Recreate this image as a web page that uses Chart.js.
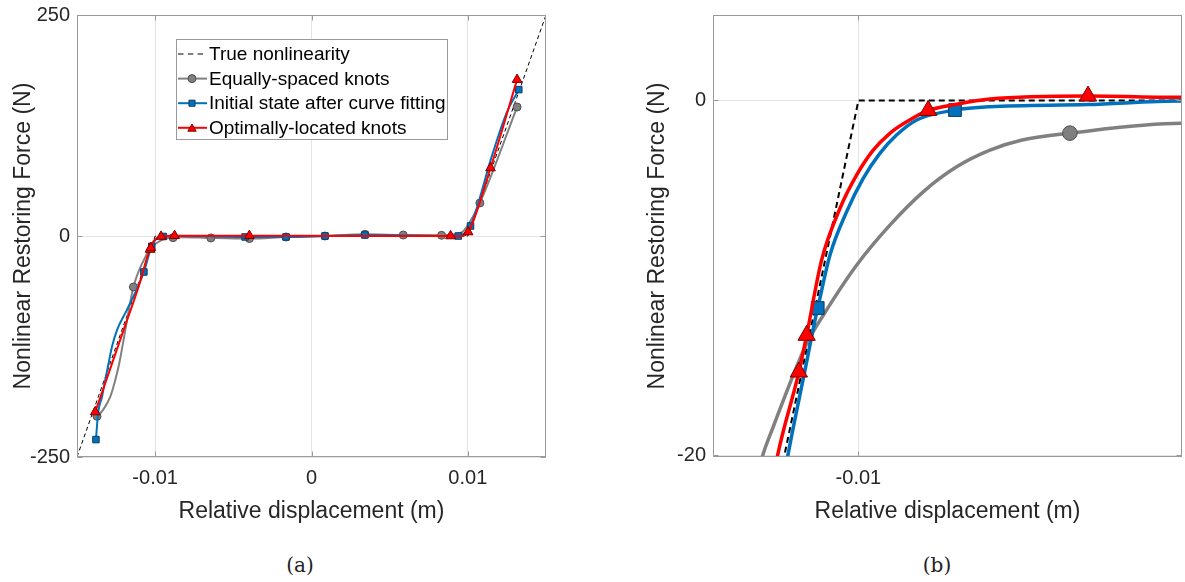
<!DOCTYPE html>
<html>
<head>
<meta charset="utf-8">
<script src="https://cdn.jsdelivr.net/npm/chart.js@4/dist/chart.umd.min.js"></script>
<style>
  body { margin: 0; background: #fff; }
  #page { position: relative; width: 1185px; height: 582px; overflow: hidden; }
  canvas { position: absolute; top: 0; }
  .cap { position: absolute; top: 553px; font: 20px/24px 'DejaVu Serif', 'Liberation Serif', serif; color: #222; transform: translateX(-50%); }
</style>
</head>
<body>
<div id="page">
  <canvas id="chartA" width="560" height="540" style="left:0"></canvas>
  <canvas id="chartB" width="600" height="540" style="left:600px"></canvas>
  <div class="cap" style="left:300px">(a)</div>
  <div class="cap" style="left:937px">(b)</div>
</div>
<script>
// true piecewise-linear nonlinearity
const trueX = [-0.015, -0.01, 0.01, 0.015];
const trueY = [-250, 0, 0, 250];

// equally-spaced knots (grey)
const grayKnotX = [-0.01372, -0.01139, -0.008857, -0.00644, -0.00397, -0.00163, 0.00086, 0.00342, 0.00587, 0.00832, 0.01077, 0.01315];
const grayKnotY = [-204, -57.7, -1.84, -2.2, -2.9, -1.1, 0, 1.9, 1.1, 0.8, 37.3, 145.9];
const grayCurveX = [-0.013355, -0.012875, -0.012556, -0.0123, -0.012026, -0.01052, -0.010461, -0.01028, -0.01019, -0.01001, -0.00983, -0.00965, -0.009469, -0.009289, -0.009115, -0.008251, 0.0096, 0.0101];
const grayCurveY = [-197.2, -182.1, -163.2, -144.3, -118, -20.11, -18.42, -13.71, -12.11, -9.29, -7.03, -5.15, -3.74, -2.8, -2.23, -1.29, 4, 15];

// initial state after curve fitting (blue)
const blueKnotX = [-0.013789, -0.010722, -0.01022, -0.009478, -0.004249, -0.001629, 0.000863, 0.003419, 0.00939, 0.010172, 0.013259];
const blueKnotY = [-230.3, -40.7, -11.7, -0.54, -1.1, -1.1, 0, 1.1, 0, 11.3, 165.6];
const blueCurveX = [-0.013642, -0.013406, -0.013195, -0.012984, -0.012767, -0.012447, -0.011808, -0.010383, -0.010289, -0.010229, -0.010154, -0.010064, -0.009974, -0.009884, -0.009794, -0.009685, -0.009289, -0.008759, -0.008251, 0.0065, 0.0098, 0.0116, 0.0125];
const blueCurveY = [-199.1, -182.1, -163.2, -144.3, -125.6, -106.7, -83.5, -20.11, -15.22, -12.11, -8.72, -6.28, -4.39, -2.98, -1.95, -1.1, -0.35, -0.23, -0.03, 0.6, 3, 94, 140];

// optimally-located knots (red)
const redKnotX = [-0.013834, -0.010322, -0.01028, -0.009623, -0.008759, -0.003974, 0.008895, 0.010019, 0.01145, 0.01315];
const redKnotY = [-199.1, -15.31, -13.24, -0.56, 0.25, 0.3, 0, 4.5, 76.9, 176.9];
const redCurveX = [-0.012026, -0.011067, -0.010439, -0.010199, -0.0101, -0.01001, -0.00992, -0.00983, -0.009739, -0.009469, -0.009289, -0.008251, 0.003, 0.0095];
const redCurveY = [-106.7, -57.7, -20.11, -9, -6.09, -4.21, -2.8, -1.85, -1.2, -0.21, 0.08, 0.18, 0.1, -0.3];

const legendLabels = ['True nonlinearity', 'Equally-spaced knots', 'Initial state after curve fitting', 'Optimally-located knots'];

const xTicksA = [-0.01, 0, 0.01];
const xTickLabelsA = ['-0.01', '0', '0.01'];
const yTicksA = [-250, 0, 250];
const yTickLabelsA = ['-250', '0', '250'];
const xTicksB = [-0.01];
const xTickLabelsB = ['-0.01'];
const yTicksB = [-20, 0];
const yTickLabelsB = ['-20', '0'];

const FONT = "'Liberation Sans', Arial, Helvetica, sans-serif";
const TXT = '#262626';
const BOX = '#9a9a9a';
const GRID = '#e4e4e4';

const GRAY = '#808080', BLUE = '#0072BD', RED = '#FF0000';
const GRAY_EDGE = '#4f4f4f', BLUE_EDGE = '#123a5c', RED_EDGE = '#7a0000';

function pts(xs, ys) {
  return xs.map((x, i) => ({x: x, y: ys[i]}));
}

// curve samples plus knots, sorted along x; knots carry a flag for markers
function withKnots(cx, cy, kx, ky) {
  const all = pts(cx, cy).concat(kx.map((x, i) => ({x: x, y: ky[i], k: true})));
  return all.sort((a, b) => a.x - b.x);
}

function curve(data, color, edge, style, lw, r, order) {
  const rad = c => (c.raw && c.raw.k ? r : 0);
  return {
    data: data, borderColor: color, borderWidth: lw,
    cubicInterpolationMode: 'monotone', fill: false, clip: 0, order: order,
    pointStyle: style, pointRadius: rad, pointHoverRadius: rad,
    pointBackgroundColor: color, pointBorderColor: edge, pointBorderWidth: 1
  };
}

const frame = {
  id: 'frame',
  afterDatasetsDraw(chart) {
    const {ctx, chartArea: a, scales} = chart;
    const l = Math.round(a.left) + 0.5, r = Math.round(a.right) - 0.5;
    const t = Math.round(a.top) + 0.5, b = Math.round(a.bottom) - 0.5;
    ctx.save();
    ctx.strokeStyle = BOX;
    ctx.lineWidth = 1;
    ctx.beginPath();
    scales.x.ticks.forEach(tk => {
      const px = Math.round(scales.x.getPixelForValue(tk.value)) + 0.5;
      ctx.moveTo(px, b); ctx.lineTo(px, b - 5);
      ctx.moveTo(px, t); ctx.lineTo(px, t + 5);
    });
    scales.y.ticks.forEach(tk => {
      const py = Math.round(scales.y.getPixelForValue(tk.value)) + 0.5;
      ctx.moveTo(l, py); ctx.lineTo(l + 5, py);
      ctx.moveTo(r, py); ctx.lineTo(r - 5, py);
    });
    ctx.stroke();
    ctx.strokeRect(l, t, r - l, b - t);
    ctx.restore();
  }
};

const legendBox = {
  id: 'legendBox',
  afterDraw(chart, args, o) {
    if (!o.show) return;
    const ctx = chart.ctx;
    ctx.save();
    ctx.fillStyle = '#fff';
    ctx.fillRect(o.x, o.y, o.w, o.h);
    ctx.strokeStyle = BOX;
    ctx.lineWidth = 1;
    ctx.strokeRect(o.x + 0.5, o.y + 0.5, o.w, o.h);
    const items = [
      {color: '#000', dash: [5.5, 4.3], lw: 1},
      {color: GRAY, edge: GRAY_EDGE, style: 'circle', r: 4, lw: 2},
      {color: BLUE, edge: BLUE_EDGE, style: 'rect', r: 4.3, lw: 2},
      {color: RED, edge: RED_EDGE, style: 'triangle', r: 4.8, lw: 2}
    ];
    items.forEach((it, i) => {
      const cy = o.y + 15 + i * 24.6;
      ctx.beginPath();
      ctx.setLineDash(it.dash || []);
      ctx.strokeStyle = it.color;
      ctx.lineWidth = it.lw;
      ctx.moveTo(o.x + 2, cy);
      ctx.lineTo(o.x + 31, cy);
      ctx.stroke();
      ctx.setLineDash([]);
      if (it.style) {
        ctx.fillStyle = it.color;
        ctx.strokeStyle = it.edge;
        ctx.lineWidth = 1;
        Chart.helpers.drawPoint(ctx, {pointStyle: it.style, radius: it.r, rotation: 0, borderWidth: 1}, o.x + 16, cy + (it.style === 'triangle' ? 1 : 0));
      }
      ctx.fillStyle = '#000';
      ctx.font = '19px ' + FONT;
      ctx.textBaseline = 'middle';
      ctx.fillText(legendLabels[i], o.x + 33, cy + 1);
    });
    ctx.restore();
  }
};

function axis(min, max, ticks, extra) {
  return Object.assign({
    type: 'linear', min: min, max: max,
    afterBuildTicks: s => { s.ticks = ticks.map(v => ({value: v})); },
    grid: { color: GRID, drawTicks: false },
    border: { display: false }
  }, extra);
}

function makeChart(id, cfg) {
  const datasets = [
    curve(withKnots(redCurveX, redCurveY, redKnotX, redKnotY), RED, RED_EDGE, 'triangle', cfg.lw, cfg.rTri, 0),
    curve(withKnots(blueCurveX, blueCurveY, blueKnotX, blueKnotY), BLUE, BLUE_EDGE, 'rect', cfg.lw, cfg.rSq, 1),
    curve(withKnots(grayCurveX, grayCurveY, grayKnotX, grayKnotY), GRAY, GRAY_EDGE, 'circle', cfg.lw, cfg.rCirc, 2),
    {
      data: pts(trueX, trueY), borderColor: '#000', borderWidth: cfg.dashW, borderDash: cfg.dash,
      pointRadius: 0, tension: 0, fill: false, clip: 0, order: 3
    }
  ];
  return new Chart(document.getElementById(id), {
    type: 'line',
    data: { datasets: datasets },
    plugins: [frame, legendBox],
    options: {
      responsive: false, animation: false, devicePixelRatio: 1, events: [],
      layout: { padding: { top: 15, right: cfg.padRight, left: 0, bottom: 0 } },
      plugins: { legend: { display: false }, tooltip: { enabled: false }, legendBox: cfg.legend },
      scales: {
        x: axis(cfg.xMin, cfg.xMax, cfg.xTicks, {
          ticks: { callback: (v, i) => cfg.xLabels[i], font: {family: FONT, size: 20}, color: TXT, padding: 9, maxRotation: 0, autoSkip: false },
          title: { display: true, text: 'Relative displacement (m)', font: {family: FONT, size: 23}, color: TXT, padding: {top: 0, bottom: 15} },
          afterFit: s => { s.height = 83; s.paddingLeft = 0; s.paddingRight = 0; }
        }),
        y: axis(cfg.yMin, cfg.yMax, cfg.yTicks, {
          position: 'left',
          ticks: { callback: (v, i) => cfg.yLabels[i], font: {family: FONT, size: 20}, color: TXT, padding: 7, autoSkip: false },
          title: { display: true, text: 'Nonlinear Restoring Force (N)', font: {family: FONT, size: 23}, color: TXT, padding: {top: cfg.titlePad, bottom: 0} },
          afterFit: s => { s.width = cfg.yWidth; s.paddingTop = 0; s.paddingBottom = 0; }
        })
      }
    }
  });
}

makeChart('chartA', {
  xMin: -0.015, xMax: 0.015, yMin: -250, yMax: 250,
  xTicks: xTicksA, xLabels: xTickLabelsA, yTicks: yTicksA, yLabels: yTickLabelsA,
  yWidth: 77, padRight: 14, titlePad: 10,
  lw: 2, dashW: 1, dash: [4, 3], rTri: 5.6, rSq: 4.6, rCirc: 4,
  legend: { show: true, x: 176, y: 39, w: 271, h: 100 }
});

makeChart('chartB', {
  xMin: -0.010786, xMax: -0.008251, yMin: -20.1, yMax: 4.82,
  xTicks: xTicksB, xLabels: xTickLabelsB, yTicks: yTicksB, yLabels: yTickLabelsB,
  yWidth: 113, padRight: 18, titlePad: 44,
  lw: 3.5, dashW: 2, dash: [6, 4], rTri: 10, rSq: 9, rCirc: 7.3,
  legend: { show: false }
});
</script>
</body>
</html>
